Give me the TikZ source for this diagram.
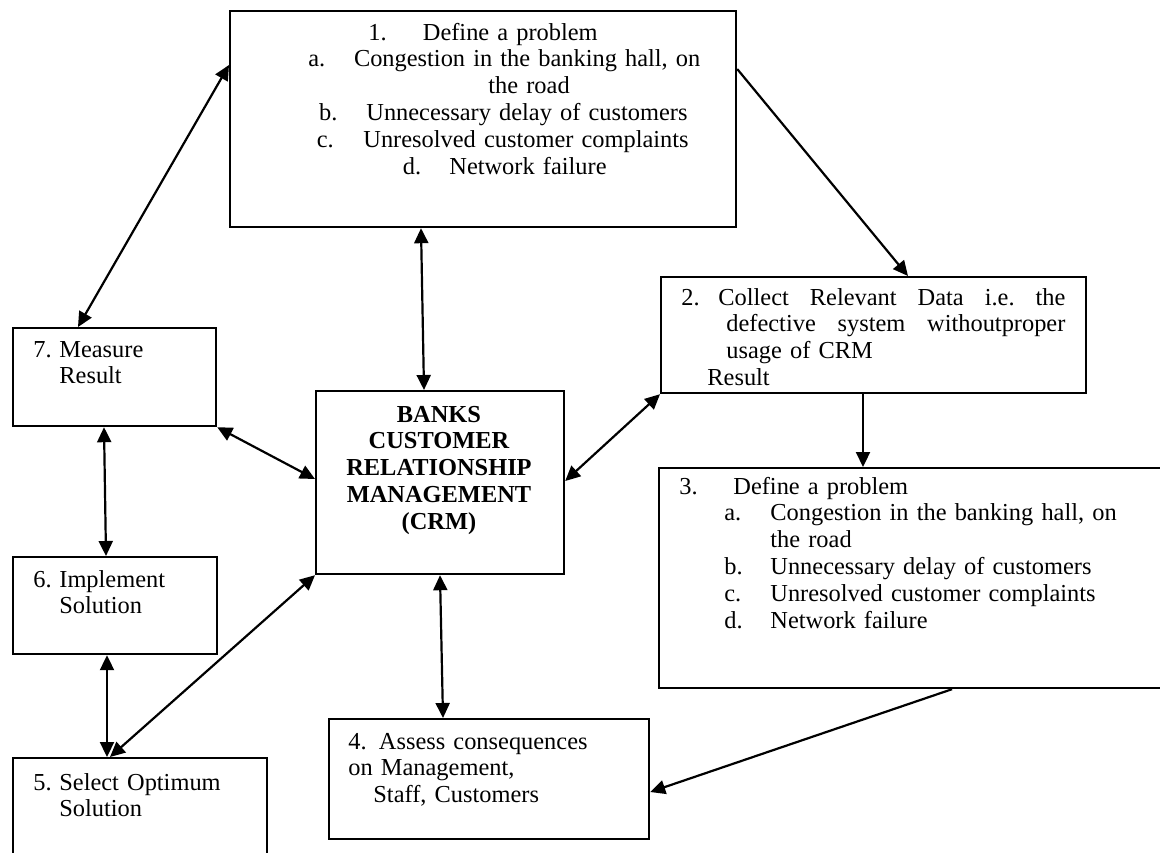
\documentclass[tikz,border=0pt]{standalone}
\usepackage{fontspec}
\setmainfont{Liberation Serif}
\usetikzlibrary{arrows.meta}
\newcommand{\lbl}[2]{\makebox[#1][l]{#2}}
\tikzset{
  frame/.style={draw, line width=1.1pt, anchor=north west, inner sep=0pt},
  txt/.style={anchor=base west, inner sep=0pt, text width=#1, align=left,
    font=\fontsize{12.2}{13.4}\selectfont},
  conn/.style={line width=1.1pt, -{Triangle[length=7.5pt,width=7pt]}},
  both/.style={line width=1.1pt, {Triangle[length=7.5pt,width=7pt]}-{Triangle[length=7.5pt,width=7pt]}}
}

\begin{document}
\begin{tikzpicture}[x=0.5pt,y=-0.5pt]
  \useasboundingbox (0,0) rectangle (1160,852);
  \fill[white] (0,0) rectangle (1160,852);
  \clip (0,0) rectangle (1160,852);

  \node[frame, minimum width=253pt, minimum height=108pt] (b1) at (229,10) {};
  \node[frame, minimum width=212.5pt, minimum height=58pt] (b2) at (660,276) {};
  \node[frame, minimum width=262pt, minimum height=110pt] (b3) at (658,467) {};
  \node[frame, minimum width=160pt, minimum height=60pt] (b4) at (328,718) {};
  \node[frame, minimum width=127pt, minimum height=60pt] (b5) at (12,757) {};
  \node[frame, minimum width=102pt, minimum height=48.5pt] (b6) at (12,556) {};
  \node[frame, minimum width=101.5pt, minimum height=49pt] (b7) at (12,327) {};
  \node[frame, minimum width=124pt, minimum height=91.5pt] (crm) at (315,390) {};

  \node[txt=220pt] (t1) at (308,40) {%
    \hspace*{30pt}\lbl{27.25pt}{1.}Define a problem\\
    \lbl{22.8pt}{a.}Congestion in the banking hall, on\\
    \hspace*{90pt}the road\\
    \hspace*{5.4pt}\lbl{23.6pt}{b.}Unnecessary delay of customers\\
    \hspace*{4.2pt}\lbl{23.3pt}{c.}Unresolved customer complaints\\
    \hspace*{47.2pt}\lbl{23.3pt}{d.}Network failure};
  \node[txt=200pt] (t2) at (681,305) {%
    \makebox[192pt][s]{\lbl{18.5pt}{2.}Collect\hfill Relevant\hfill Data\hfill i.e.\hfill the}\\
    \hspace*{22.5pt}\makebox[169.5pt][s]{defective\hfill system\hfill withoutproper}\\
    \hspace*{22.5pt}usage of CRM\\
    \hspace*{13pt}Result};
  \node[txt=230pt] (t3) at (679,494) {%
    \lbl{27pt}{3.}Define a problem\\
    \hspace*{22.5pt}\lbl{23pt}{a.}Congestion in the banking hall, on\\
    \hspace*{45.5pt}the road\\
    \hspace*{22.5pt}\lbl{23pt}{b.}Unnecessary delay of customers\\
    \hspace*{22.5pt}\lbl{23pt}{c.}Unresolved customer complaints\\
    \hspace*{22.5pt}\lbl{23pt}{d.}Network failure};
  \node[txt=140pt] (t4) at (348,749) {%
    4. Assess consequences\\
    on Management,\\
    \hspace*{12.5pt}Staff, Customers};
  \node[txt=110pt] (t5) at (33,790) {\lbl{13pt}{5.}Select Optimum\\\hspace*{13pt}Solution};
  \node[txt=90pt] (t6) at (33,587) {\lbl{13pt}{6.}Implement\\\hspace*{13pt}Solution};
  \node[txt=90pt] (t7) at (33,357) {\lbl{13pt}{7.}Measure\\\hspace*{13pt}Result};
  \node[txt=120pt, anchor=base, align=center, font=\fontsize{12.2}{13.4}\selectfont\bfseries]
    (tcrm) at (439,422) {BANKS\\CUSTOMER\\RELATIONSHIP\\MANAGEMENT\\(CRM)};

  \draw[both] ([yshift=-27.5pt]b1.north west) -- ([xshift=33pt]b7.north west);
  \draw[conn] ([yshift=-29.5pt]b1.north east) -- ([xshift=124pt]b2.north west);
  \draw[both] ([xshift=96pt]b1.south west) -- ([xshift=54.5pt]crm.north west);
  \draw[conn] ([xshift=101.5pt]b2.south west) -- ([xshift=102.5pt]b3.north west);
  \draw[both] ([yshift=-45.5pt]crm.north east) -- (b2.south west);
  \draw[conn] ([xshift=147pt]b3.south west) -- ([yshift=-37pt]b4.north east);
  \draw[both] ([xshift=62.5pt]crm.south west) -- ([xshift=57.5pt]b4.north west);
  \draw[both] (b7.south east) -- ([yshift=-44.5pt]crm.north west);
  \draw[both] ([xshift=46pt]b7.south west) -- ([xshift=47pt]b6.north west);
  \draw[both] ([xshift=47.5pt]b6.south west) -- ([xshift=47.5pt]b5.north west);
  \draw[both] (crm.south west) -- ([xshift=49pt]b5.north west);
\end{tikzpicture}
\end{document}
